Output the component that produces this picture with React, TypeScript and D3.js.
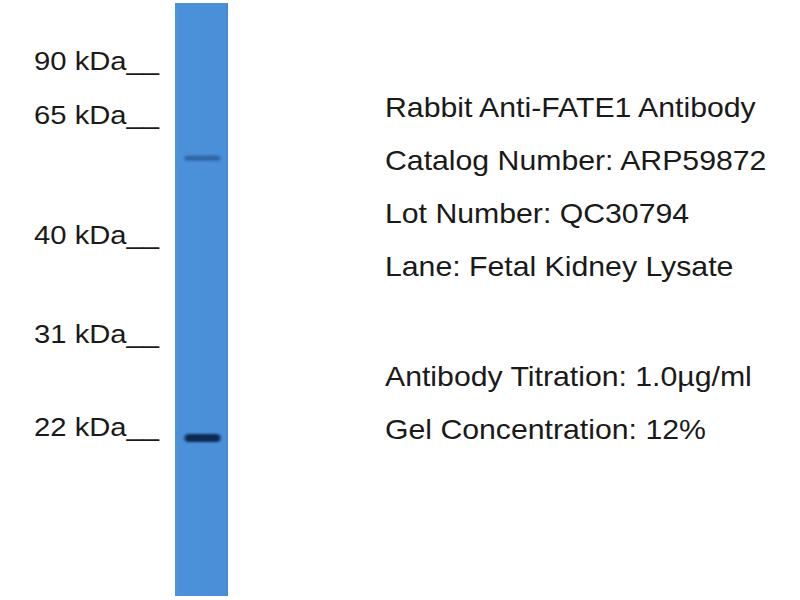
import { scaleLinear } from "d3";

// ladder (kDa) and where each marker ran on the blot
const markerKda = [90, 65, 40, 31, 22];
const markerRun = [72, 126, 246, 345, 438];

// detected bands: apparent size and relative strength
const bandKda = [58.3, 22];
const bandStrength = [0.45, 1];

const infoLines = [
  "Rabbit Anti-FATE1 Antibody",
  "Catalog Number: ARP59872",
  "Lot Number: QC30794",
  "Lane: Fetal Kidney Lysate",
  "",
  "Antibody Titration: 1.0µg/ml",
  "Gel Concentration: 12%",
];

const W = 800;
const H = 600;
const lane = { x: 175, w: 53, top: 3, bottom: 596 };

export default function App() {
  const y = scaleLinear().domain(markerKda).range(markerRun);
  const lineY = scaleLinear().domain([0, 1]).range([117, 170]);
  const darkness = scaleLinear<string>().domain([0, 1]).range(["#3d7cc4", "#0f2a55"]);

  return (
    <svg
      width={W}
      height={H}
      style={{ position: "fixed", top: 0, left: 0, background: "#fff" }}
      fontFamily="'Liberation Sans', Arial, sans-serif"
    >
      <defs>
        <linearGradient id="laneFill" x1="0" x2="1" y1="0" y2="0">
          <stop offset="0" stopColor="#5094d8" />
          <stop offset="0.06" stopColor="#4b91da" />
          <stop offset="0.94" stopColor="#4a8fd8" />
          <stop offset="1" stopColor="#4688d0" />
        </linearGradient>
        <filter id="blur" x="-20%" y="-200%" width="140%" height="500%">
          <feGaussianBlur stdDeviation="1.6 1.3" />
        </filter>
      </defs>

      <rect
        x={lane.x}
        y={lane.top}
        width={lane.w}
        height={lane.bottom - lane.top}
        fill="url(#laneFill)"
      />

      {bandKda.map((k, i) => {
        const s = bandStrength[i];
        const bw = 36;
        const bh = 3 + 5 * s;
        return (
          <rect
            key={k}
            x={lane.x + (lane.w - bw) / 2 + 1}
            y={y(k) - bh / 2}
            width={bw}
            height={bh}
            rx={bh / 2}
            fill={darkness(s)}
            opacity={0.5 + 0.5 * s}
            filter="url(#blur)"
          />
        );
      })}

      {markerKda.map((k) => (
        <text
          key={k}
          transform={`translate(34,${y(k) - 2}) scale(1.17,1)`}
          fontSize={25}
          fill="#1a1a1a"
        >
          {`${k} kDa__`}
        </text>
      ))}

      {infoLines.map((t, i) =>
        t ? (
          <text
            key={i}
            transform={`translate(385,${lineY(i) + (i >= 5 ? 4 : 0)}) scale(1.08,1)`}
            fontSize={28}
            fill="#1a1a1a"
          >
            {t}
          </text>
        ) : null
      )}
    </svg>
  );
}
